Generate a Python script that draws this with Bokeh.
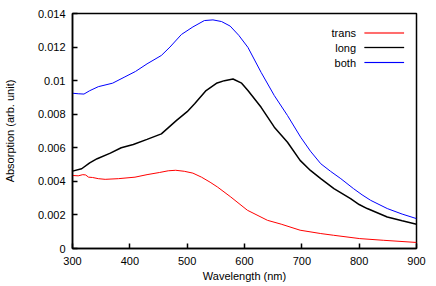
from bokeh.plotting import figure
from bokeh.models import FixedTicker, Label, BoxAnnotation
from bokeh.embed import file_html
from bokeh.resources import INLINE

# --- data ---
wl_both = [300, 310, 320, 330, 345, 370, 390, 410, 430, 455, 470, 490, 510, 530, 545,
           560, 575, 590, 606, 629, 652, 675, 698, 715, 733, 750, 768, 790, 805, 820,
           849, 875, 900]
both = [0.00925, 0.00922, 0.00920, 0.00940, 0.00964, 0.00985, 0.0102, 0.01055, 0.0110,
        0.01150, 0.0120, 0.01275, 0.01320, 0.01358, 0.01362, 0.01352, 0.01325, 0.01270,
        0.01198, 0.01049, 0.00911, 0.00792, 0.00663, 0.00580, 0.00505, 0.00460, 0.00416,
        0.00357, 0.00320, 0.00287, 0.00238, 0.00205, 0.00178]

wl_long = [300, 316, 330, 343, 366, 385, 406, 430, 455, 481, 500, 513, 533, 551, 565,
           580, 595, 606, 629, 652, 675, 697, 715, 733, 756, 785, 800, 814, 849, 875, 900]
long_ = [0.00461, 0.00475, 0.00510, 0.00535, 0.00568, 0.0060, 0.0062, 0.00650, 0.00683,
         0.00762, 0.00815, 0.00862, 0.00941, 0.00984, 0.0100, 0.01010, 0.00985, 0.00941,
         0.00841, 0.00723, 0.00633, 0.00525, 0.00465, 0.00416, 0.00357, 0.00297, 0.00262,
         0.00238, 0.00188, 0.00165, 0.00145]

wl_trans = [300, 310, 318, 323, 328, 335, 345, 357, 380, 409, 430, 452, 467, 480, 495,
            510, 525, 540, 553, 576, 605, 640, 664, 697, 733, 755, 801, 842, 900]
trans = [0.00435, 0.00433, 0.00440, 0.00438, 0.00425, 0.00423, 0.00416, 0.00412, 0.00416,
         0.00425, 0.00440, 0.00453, 0.00463, 0.00466, 0.00460, 0.00449, 0.00425, 0.00395,
         0.00366, 0.00307, 0.00228, 0.00168, 0.00145, 0.00109, 0.00089, 0.00079, 0.00059,
         0.00049, 0.00036]

x_ticks = [300, 400, 500, 600, 700, 800, 900]
y_ticks = [0, 0.002, 0.004, 0.006, 0.008, 0.01, 0.012, 0.014]
y_tick_labels = ["0", "0.002", "0.004", "0.006", "0.008", "0.01", "0.012", "0.014"]

series_names = ["trans", "long", "both"]
series_colors = ["#ff0000", "#000000", "#0000ff"]

FONT = "Liberation Sans"

p = figure(width=436, height=286, output_backend="svg", toolbar_location=None,
           x_range=(300, 900), y_range=(0, 0.014),
           min_border_left=70, min_border_right=20, min_border_top=13, min_border_bottom=38)

p.line(wl_trans, trans, line_color=series_colors[0], line_width=1)
p.line(wl_long, long_, line_color=series_colors[1], line_width=1.5)
p.line(wl_both, both, line_color=series_colors[2], line_width=1)

p.xgrid.visible = False
p.ygrid.visible = False
p.outline_line_color = "black"
p.outline_line_width = 1.5
p.outline_line_alpha = 1
p.background_fill_color = "white"
p.border_fill_color = "white"

p.xaxis.ticker = FixedTicker(ticks=x_ticks)
p.yaxis.ticker = FixedTicker(ticks=y_ticks)
p.yaxis.major_label_overrides = {t: l for t, l in zip(y_ticks, y_tick_labels)}
p.xaxis.major_label_overrides = {t: str(t) for t in x_ticks}

for ax in (p.xaxis, p.yaxis):
    ax.major_tick_in = 5
    ax.major_tick_out = 0
    ax.minor_tick_line_color = None
    ax.axis_line_width = 1.5
    ax.major_tick_line_width = 1.5
    ax.major_label_text_font = FONT
    ax.major_label_text_font_size = "11px"
    ax.major_label_text_color = "black"
    ax.axis_label_text_font = FONT
    ax.axis_label_text_font_size = "11px"
    ax.axis_label_text_font_style = "normal"
    ax.axis_label_text_color = "black"

p.xaxis.axis_label = "Wavelength (nm)"
p.yaxis.axis_label = "Absorption (arb. unit)"
p.xaxis.major_label_standoff = 8
p.xaxis.axis_label_standoff = 2
p.yaxis.major_label_standoff = 7
p.yaxis.axis_label_standoff = 19

# custom legend: text right-aligned, line sample to the right
row_y = [215.6, 201.0, 186.0]
for name, color, yy in zip(series_names, series_colors, row_y):
    p.add_layout(Label(x=283.5, y=yy, x_units="screen", y_units="screen", text=name,
                       text_align="right", text_baseline="middle",
                       text_font=FONT, text_font_size="11px", text_color="black"))
    p.add_layout(BoxAnnotation(left=292, right=331.5, bottom=yy - 0.5, top=yy + 0.5,
                               left_units="screen", right_units="screen",
                               bottom_units="screen", top_units="screen",
                               fill_color=color, fill_alpha=1,
                               line_color=color, line_width=0.5 if color != "#000000" else 1))

open("out.html", "w").write(file_html(p, INLINE))
